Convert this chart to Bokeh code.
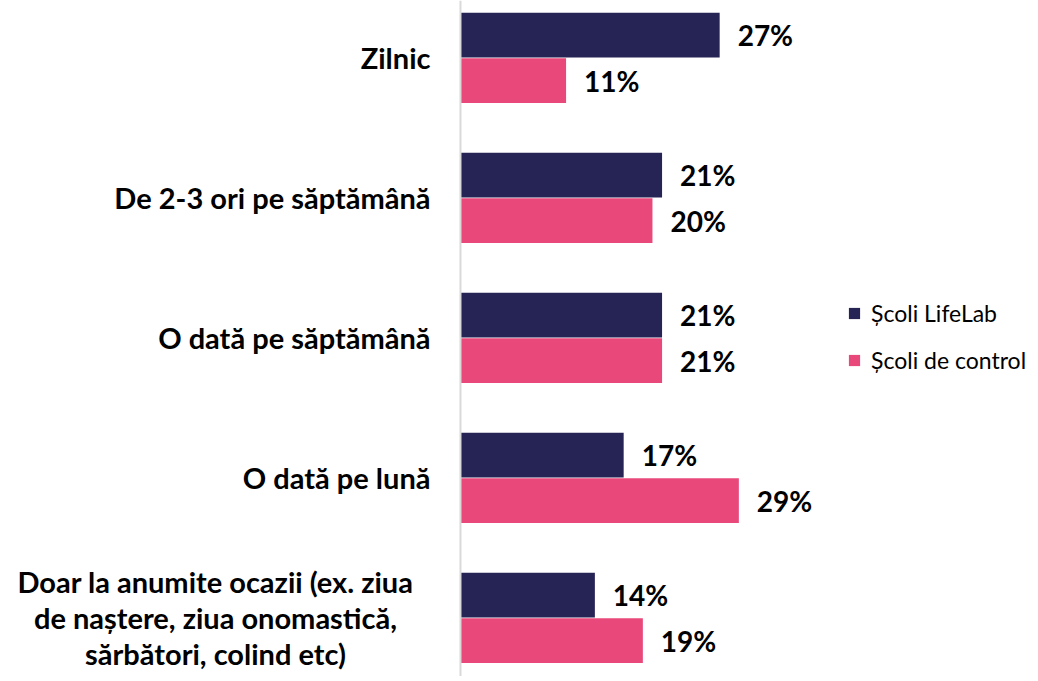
from bokeh.plotting import figure
from bokeh.models import ColumnDataSource, Range1d, Legend, LegendItem, LabelSet, Span
from bokeh.core.properties import value
from bokeh.embed import file_html
from bokeh.resources import INLINE

categories = [
    "Zilnic",
    "De 2-3 ori pe săptămână",
    "O dată pe săptămână",
    "O dată pe lună",
    "Doar la anumite ocazii (ex. ziua\nde naștere, ziua onomastică,\nsărbători, colind etc)",
]
lifelab = [27, 21, 21, 17, 14]
control = [11, 20, 21, 29, 19]
series_names = ["Școli LifeLab", "Școli de control"]
colors = ["#262355", "#E8497A"]

FONT = "Lato"

pos = list(range(len(categories)))
src_a = ColumnDataSource(dict(y=[i - 0.16 for i in pos], v=lifelab, t=[f"{v}%" for v in lifelab]))
src_b = ColumnDataSource(dict(y=[i + 0.165 for i in pos], v=control, t=[f"{v}%" for v in control]))

single_idx = [i for i, c in zip(pos, categories) if "\n" not in c]
multi_idx = [i for i, c in zip(pos, categories) if "\n" in c]
src_single = ColumnDataSource(dict(y=single_idx, t=[categories[i] for i in single_idx],
                                   x=[0] * len(single_idx)))
src_multi = ColumnDataSource(dict(y=multi_idx, t=[categories[i] for i in multi_idx],
                                  x=[0] * len(multi_idx)))

# px per percent ~9.6; frame spans the whole figure, category axis line at x=0
p = figure(width=1034, height=676, output_backend="svg", toolbar_location=None,
           x_range=Range1d(-47.92, 59.8), y_range=Range1d(4.421, -0.407),
           min_border_left=0, min_border_right=0, min_border_top=0, min_border_bottom=0)

ra = p.hbar(y="y", right="v", left=0, height=0.32, source=src_a, color=colors[0], line_color=None)
rb = p.hbar(y="y", right="v", left=0, height=0.32, source=src_b, color=colors[1], line_color=None)

for src in (src_a, src_b):
    p.add_layout(LabelSet(x="v", y="y", text="t", source=src, x_offset=18,
                          text_baseline="middle", text_align="left",
                          text_font=value(FONT), text_font_style="bold", text_font_size="28px",
                          text_color="#000000"))

# category labels
p.text(x="x", y="y", text="t", source=src_single, x_offset=-30,
       text_align="right", text_baseline="middle", text_font=value(FONT),
       text_font_style="bold", text_font_size="29px", text_color="#000000")
p.text(x="x", y="y", text="t", source=src_multi, x_offset=-245,
       text_align="center", text_baseline="middle", text_font=value(FONT),
       text_font_style="bold", text_font_size="29px", text_color="#000000",
       text_line_height=1.04)

# category axis line
p.add_layout(Span(location=0, dimension="height", line_color="#d9d9d9", line_width=2))

p.xaxis.visible = False
p.yaxis.visible = False
p.grid.visible = False
p.outline_line_color = None

legend = Legend(items=[LegendItem(label=series_names[0], renderers=[ra]),
                       LegendItem(label=series_names[1], renderers=[rb])],
                location=(847, 302), orientation="vertical",
                label_text_font=FONT, label_text_font_size="23px", label_text_color="#000000",
                glyph_width=14, glyph_height=14, label_height=24, spacing=19,
                label_standoff=10, padding=0, margin=0,
                border_line_color=None, background_fill_alpha=0)
p.add_layout(legend)

open("out.html", "w").write(file_html(p, INLINE))
